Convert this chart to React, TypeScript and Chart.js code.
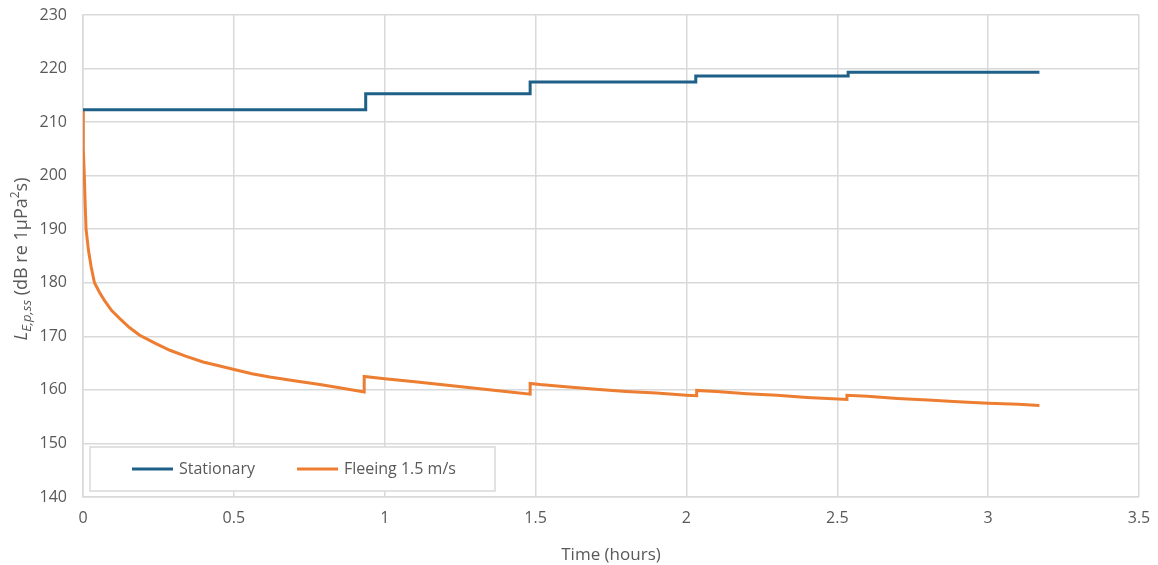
import React, { useEffect, useRef } from "react";
import { Chart, registerables } from "chart.js";

Chart.register(...registerables);

// ---- data ----
const stationaryTime = [0, 0.937, 0.937, 1.482, 1.482, 2.031, 2.031, 2.536, 2.536, 3.17];
const stationaryLevel = [212.3, 212.3, 215.3, 215.3, 217.5, 217.5, 218.6, 218.6, 219.3, 219.3];

const fleeingTime = [
  0, 0.001, 0.0045, 0.007, 0.01, 0.018, 0.027, 0.038, 0.055, 0.071, 0.095, 0.122, 0.155, 0.188,
  0.24, 0.288, 0.34, 0.398, 0.45, 0.501, 0.56, 0.619, 0.7, 0.785, 0.85, 0.932, 0.932, 1.0, 1.1,
  1.2, 1.3, 1.4, 1.482, 1.482, 1.515, 1.6, 1.7, 1.8, 1.9, 2.0, 2.034, 2.034, 2.1, 2.2, 2.3, 2.4,
  2.532, 2.532, 2.6, 2.7, 2.8, 2.9, 3.0, 3.1, 3.17,
];
const fleeingLevel = [
  212.3, 205, 199.8, 195, 190.1, 186.1, 183, 180.0, 178.2, 176.7, 174.8, 173.3, 171.6, 170.2,
  168.7, 167.4, 166.3, 165.2, 164.5, 163.8, 163.0, 162.4, 161.7, 161.0, 160.4, 159.6, 162.5, 162.1,
  161.5, 160.9, 160.3, 159.7, 159.2, 161.2, 161.0, 160.6, 160.1, 159.7, 159.4, 159.0, 158.9, 159.9,
  159.7, 159.3, 159.0, 158.6, 158.2, 159.0, 158.8, 158.4, 158.1, 157.8, 157.5, 157.3, 157.1,
];

const seriesLabels = ["Stationary", "Fleeing 1.5 m/s"];
const seriesColors = ["#1F6089", "#ED7D31"];

const yMin = 140;
const yMax = 230;
const yStep = 10;
const xMin = 0;
const xMax = 3.5;
const xStep = 0.5;
const xTitle = "Time (hours)";

const FONT = "'Open Sans', 'Noto Sans', sans-serif";
const TEXT = "#595959";
const GRID = "#D9D9D9";

const toPoints = (xs: number[], ys: number[]) => xs.map((x, i) => ({ x, y: ys[i] }));

const yTitlePlugin = {
  id: "yTitle",
  afterDraw(chart: any) {
    const ctx = chart.ctx as CanvasRenderingContext2D;
    const segs = [
      { t: "L", f: `italic 18px ${FONT}`, dy: 0 },
      { t: "E,p,ss", f: `italic 13px ${FONT}`, dy: 5 },
      { t: " (dB re 1µPa", f: `18px ${FONT}`, dy: 0 },
      { t: "2", f: `12px ${FONT}`, dy: -6 },
      { t: "s)", f: `18px ${FONT}`, dy: 0 },
    ];
    ctx.save();
    let total = 0;
    const widths = segs.map((s) => {
      ctx.font = s.f;
      const w = ctx.measureText(s.t).width;
      total += w;
      return w;
    });
    ctx.translate(22, 259);
    ctx.rotate(-Math.PI / 2);
    ctx.fillStyle = TEXT;
    ctx.textBaseline = "middle";
    ctx.textAlign = "left";
    let x = -total / 2;
    segs.forEach((s, i) => {
      ctx.font = s.f;
      ctx.fillText(s.t, x, s.dy);
      x += widths[i];
    });
    ctx.restore();
  },
};

const legendPlugin = {
  id: "boxLegend",
  afterDraw(chart: any) {
    const ctx = chart.ctx as CanvasRenderingContext2D;
    const area = chart.chartArea;
    const left = area.left + 7;
    const top = area.bottom - 50;
    const w = 405;
    const h = 44;
    ctx.save();
    ctx.fillStyle = "#FFFFFF";
    ctx.fillRect(left, top, w, h);
    ctx.strokeStyle = GRID;
    ctx.lineWidth = 1.5;
    ctx.strokeRect(left, top, w, h);
    const cy = top + h / 2;
    const items = [
      { lx: left + 42, tx: left + 89 },
      { lx: left + 207, tx: left + 254 },
    ];
    chart.data.datasets.forEach((ds: any, i: number) => {
      const it = items[i];
      ctx.strokeStyle = ds.borderColor;
      ctx.lineWidth = 3;
      ctx.beginPath();
      ctx.moveTo(it.lx, cy);
      ctx.lineTo(it.lx + 41, cy);
      ctx.stroke();
      ctx.fillStyle = TEXT;
      ctx.font = `16px ${FONT}`;
      ctx.textBaseline = "middle";
      ctx.textAlign = "left";
      ctx.fillText(ds.label, it.tx, cy);
    });
    ctx.restore();
  },
};

export default function App() {
  const ref = useRef<HTMLCanvasElement | null>(null);

  useEffect(() => {
    if (!ref.current) return;
    const chart = new Chart(ref.current, {
      type: "line",
      data: {
        datasets: [
          {
            label: seriesLabels[0],
            data: toPoints(stationaryTime, stationaryLevel),
            borderColor: seriesColors[0],
            backgroundColor: seriesColors[0],
            borderWidth: 3,
            pointRadius: 0,
            tension: 0,
          },
          {
            label: seriesLabels[1],
            data: toPoints(fleeingTime, fleeingLevel),
            borderColor: seriesColors[1],
            backgroundColor: seriesColors[1],
            borderWidth: 3,
            pointRadius: 0,
            tension: 0,
          },
        ],
      },
      options: {
        animation: false,
        responsive: false,
        maintainAspectRatio: false,
        layout: { padding: { top: 15, right: 19, left: 0, bottom: 0 } },
        plugins: {
          legend: { display: false },
          tooltip: { enabled: false },
          title: { display: false },
        },
        scales: {
          x: {
            type: "linear",
            min: xMin,
            max: xMax,
            ticks: {
              stepSize: xStep,
              color: TEXT,
              font: { family: FONT, size: 16 },
              padding: 12,
              maxRotation: 0,
              callback: (v: any) => String(Math.round(Number(v) * 10) / 10),
            },
            grid: { color: GRID, lineWidth: 1.5, drawTicks: false },
            border: { color: GRID, width: 1.5 },
            title: {
              display: true,
              text: xTitle,
              color: TEXT,
              font: { family: FONT, size: 17 },
              padding: { top: 2, bottom: 0 },
            },
            afterFit: (s: any) => {
              s.height = 68;
              s.paddingLeft = 0;
              s.paddingRight = 0;
            },
          },
          y: {
            min: yMin,
            max: yMax,
            ticks: {
              stepSize: yStep,
              color: TEXT,
              font: { family: FONT, size: 16 },
              padding: 16,
            },
            grid: { color: GRID, lineWidth: 1.5, drawTicks: false },
            border: { color: GRID, width: 1.5 },
            afterFit: (s: any) => {
              s.width = 83;
              s.paddingTop = 0;
              s.paddingBottom = 0;
            },
          },
        },
      },
      plugins: [yTitlePlugin, legendPlugin],
    });
    return () => chart.destroy();
  }, []);

  return (
    <div style={{ position: "absolute", left: 0, top: 0, width: 1158, height: 565, background: "#fff" }}>
      <canvas ref={ref} width={1158} height={565} style={{ display: "block" }} />
    </div>
  );
}
